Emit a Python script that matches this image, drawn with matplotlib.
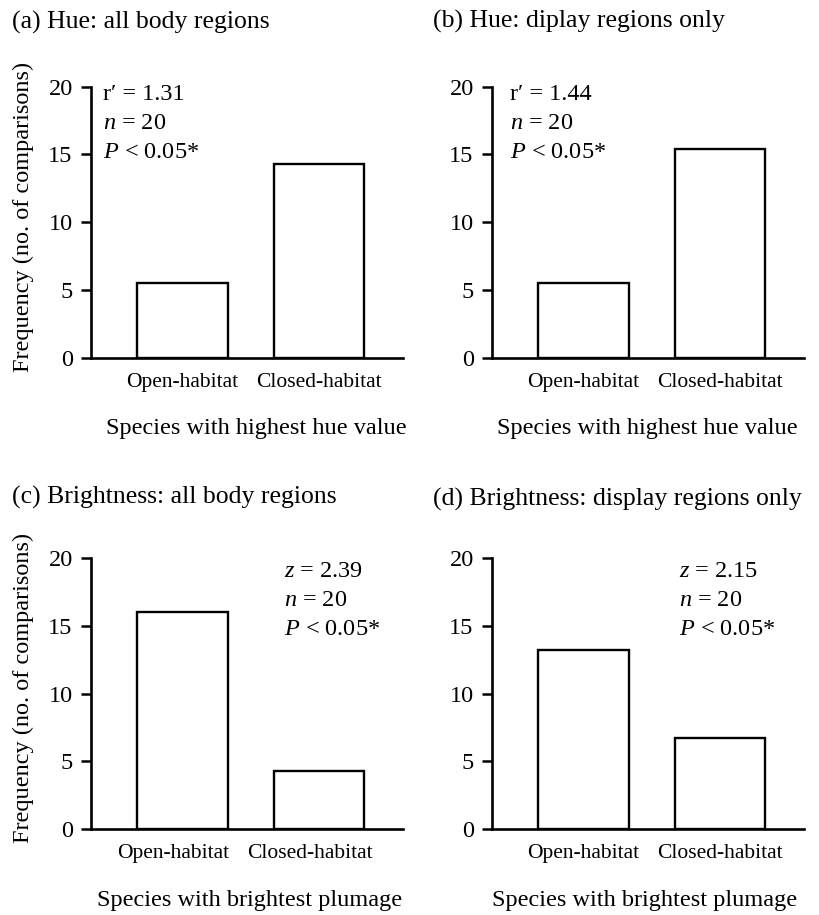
import matplotlib
matplotlib.use('Agg')
import matplotlib.pyplot as plt
import numpy as np

plt.rcParams['font.family'] = ['Liberation Serif', 'DejaVu Serif']
plt.rcParams['mathtext.fontset'] = 'custom'
plt.rcParams['mathtext.it'] = 'Liberation Serif:italic'
plt.rcParams['mathtext.rm'] = 'Liberation Serif'

# values (number of comparisons)
categories = ['Open-habitat', 'Closed-habitat']
hue_all = [5.5, 14.3]
hue_display = [5.5, 15.4]
bright_all = [16.0, 4.3]
bright_display = [13.2, 6.7]

titles = ['(a) Hue: all body regions',
          '(b) Hue: diplay regions only',
          '(c) Brightness: all body regions',
          '(d) Brightness: display regions only']
xlabels = ['Species with highest hue value',
           'Species with highest hue value',
           'Species with brightest plumage',
           'Species with brightest plumage']
stats = [['r\u2032 = 1.31', '$n$ = 20', '$P$ < 0.05*'],
         ['r\u2032 = 1.44', '$n$ = 20', '$P$ < 0.05*'],
         ['$z$ = 2.39', '$n$ = 20', '$P$ < 0.05*'],
         ['$z$ = 2.15', '$n$ = 20', '$P$ < 0.05*']]
series = [hue_all, hue_display, bright_all, bright_display]

W, H = 819, 915
fig = plt.figure(figsize=(W / 100, H / 100), dpi=100)

# panel layout in pixels: (axis left, y of zero line, title x, title y, stats x, stats y, xlabel x, tick shift)
panels = [
    (90.7, 357.7, 12, 22, 0.04, 0.97, 0.53, 0.0),
    (491.7, 357.7, 433, 21, 0.06, 0.97, 0.50, 0.0),
    (90.7, 829.0, 12, 497, 0.62, 0.95, 0.51, -0.07),
    (491.7, 829.0, 433, 499, 0.60, 0.95, 0.49, 0.0),
]
ax_w, ax_h = 312, 271

x = np.arange(len(categories))
for i, (left, base, tx, ty, sx, sy, lx, shift) in enumerate(panels):
    ax = fig.add_axes([left / W, (H - base) / H, ax_w / W, ax_h / H])
    ax.bar(x, series[i], width=0.66, color='white', edgecolor='black',
           linewidth=1.7, zorder=3)
    ax.set_xlim(-0.67, 1.61)
    ax.set_ylim(0, 20)
    ax.set_yticks([0, 5, 10, 15, 20])
    ax.set_xticks(x + shift)
    ax.set_xticklabels(categories, fontsize=15.5)
    ax.tick_params(axis='x', length=0, pad=11)
    ax.tick_params(axis='y', length=7.5, width=1.8, pad=5.5, labelsize=17.5)
    for s in ['top', 'right']:
        ax.spines[s].set_visible(False)
    for s in ['left', 'bottom']:
        ax.spines[s].set_linewidth(1.9)
        ax.spines[s].set_zorder(4)

    ax.set_xlabel(xlabels[i], fontsize=17.5)
    ax.xaxis.set_label_coords(lx, -0.262)
    ax.xaxis.label.set_va('center')
    if i in (0, 2):
        ax.set_ylabel('Frequency (no. of comparisons)', fontsize=17.5)
        ax.yaxis.set_label_coords(-0.217, 0.52)
        ax.yaxis.label.set_va('center')

    for k, line in enumerate(stats[i]):
        ax.text(sx, sy - k * 0.106, line, transform=ax.transAxes,
                fontsize=17.5, va='center', ha='left')

    fig.text(tx / W, 1 - ty / H, titles[i], fontsize=18.5, va='center', ha='left')

fig.savefig('out.png', dpi=100)
